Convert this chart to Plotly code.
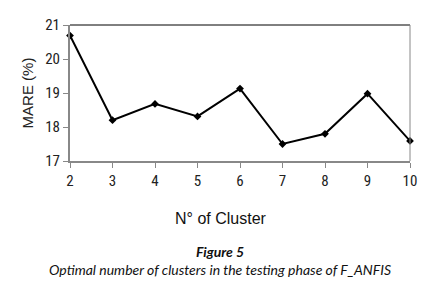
import plotly.graph_objects as go

clusters = [2, 3, 4, 5, 6, 7, 8, 9, 10]
mare = [20.69, 18.2, 18.68, 18.31, 19.13, 17.5, 17.8, 18.98, 17.59]
y_ticks = [17, 18, 19, 20, 21]

fig = go.Figure()
fig.add_trace(go.Scatter(
    x=clusters, y=mare, mode="lines+markers",
    line=dict(color="black", width=2),
    marker=dict(symbol="diamond", size=6, color="black"),
    showlegend=False, cliponaxis=False,
))

tick_font = dict(family="Liberation Sans Narrow, Roboto Condensed, Arial Narrow, sans-serif", size=15, color="#222")

fig.update_layout(
    width=426, height=286,
    margin=dict(l=62, r=24, t=17, b=133),
    paper_bgcolor="white", plot_bgcolor="white",
    xaxis=dict(
        range=[2, 10], tickvals=clusters, ticks="outside", ticklen=5,
        tickcolor="#888", linecolor="#888", linewidth=2, showline=True,
        showgrid=False, zeroline=False, tickfont=tick_font,
        automargin=False,
    ),
    yaxis=dict(
        range=[17, 21], tickvals=y_ticks, ticks="outside", ticklen=5,
        tickcolor="#888", linecolor="#888", linewidth=2, showline=True,
        showgrid=False, zeroline=False, tickfont=tick_font,
        automargin=False,
        title=dict(text="MARE (%)", font=dict(family="Liberation Sans, Arial, sans-serif", size=15, color="#222"), standoff=8),
    ),
    shapes=[
        dict(type="line", xref="paper", yref="paper", x0=0, x1=1, y0=1, y1=1,
             line=dict(color="black", width=1)),
        dict(type="line", xref="paper", yref="paper", x0=1, x1=1, y0=0, y1=1,
             line=dict(color="#888", width=1)),
    ],
    annotations=[
        dict(text="N° of Cluster", xref="paper", yref="paper", x=0.445, y=1, yshift=-193,
             showarrow=False, xanchor="center", yanchor="middle",
             font=dict(family="Liberation Sans Narrow, sans-serif", size=16, color="#111")),
        dict(text="<b><i>Figure 5</i></b><br><i>Optimal number of clusters in the testing phase of F_ANFIS</i>",
             xref="paper", yref="paper", x=0.44, y=1, yshift=-235,
             showarrow=False, xanchor="center", yanchor="middle", align="center",
             font=dict(family="Lato, sans-serif", size=14, color="#111")),
    ],
)

fig.write_html("out.html")
